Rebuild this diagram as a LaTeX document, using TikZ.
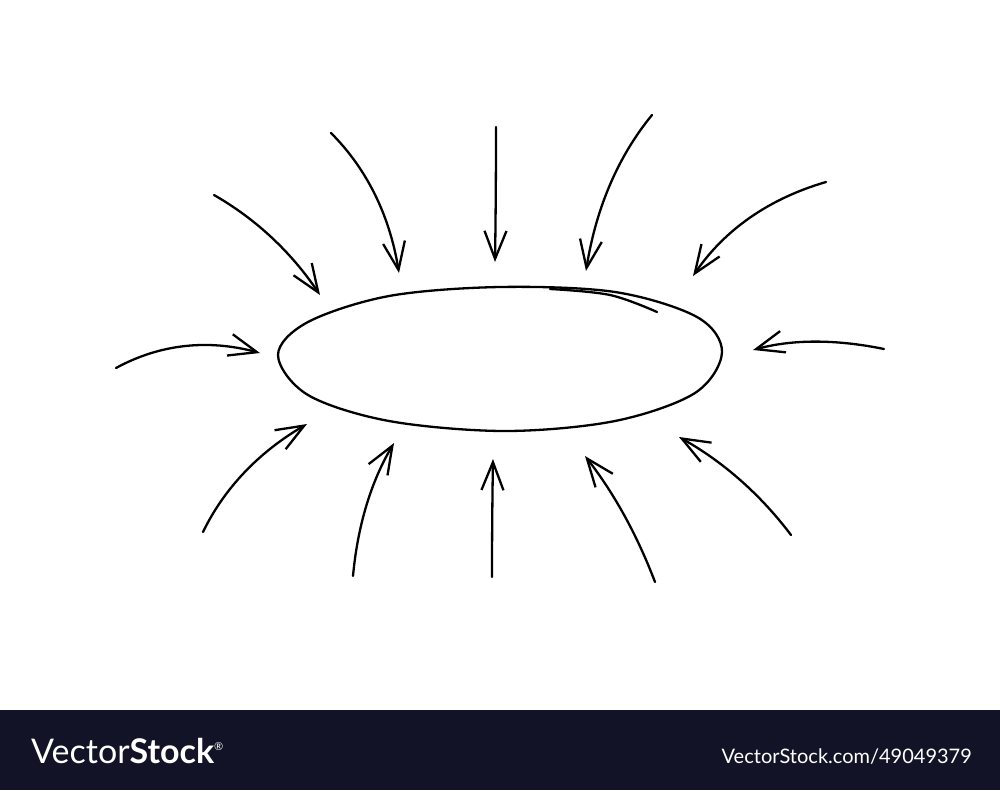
\documentclass[tikz,border=0pt]{standalone}
\usepackage{fontspec}
\setsansfont{Lato}
\usetikzlibrary{arrows.meta,calc}
\definecolor{barcol}{HTML}{121326}

\tikzset{
    sketch/.style={line width=2.3pt, line cap=round, line join=round},
    inarrow/.style={sketch, -{Straight Barb[length=28pt, width=22pt, line width=2.3pt]}}
}

\begin{document}
\begin{tikzpicture}[x=1pt, y=-1pt]
    \useasboundingbox (0,0) rectangle (1000,790);
    \fill[white] (0,0) rectangle (1000,790);
    % hand drawn loop
    \draw[sketch] plot[smooth cycle, tension=0.55] coordinates {(722,352) (697,317) (615,292) (500,287) (389,296) (308,322) (278,355) (308,395) (389,421) (505,431) (615,421) (695,393)};
    \draw[sketch] plot[smooth, tension=0.6] coordinates {(550,289) (610,295) (657,312)};
    % arrows pointing in: tail / bend / tip
    \foreach \i/\tx/\ty/\cx/\cy/\hx/\hy in {
        1/214/195/277/231/320/295, 2/331/133/385/187/399/273,
        3/496/127/496/195/495/262, 4/652/115/601/177/586/271,
        5/826/182/740/207/693/276, 6/116/368/182/332/260/353,
        7/884/349/811/334/753/350, 8/203/532/235/466/307/424,
        9/353/576/360/500/394/443, 10/492/577/492/518/493/459,
        11/655/582/628/511/585/456, 12/791/535/745/474/679/437}
    {
        \coordinate (tail\i) at (\tx,\ty);
        \coordinate (tip\i) at (\hx,\hy);
        \coordinate (bend\i) at (\cx,\cy);
        \draw[inarrow] (tail\i) .. controls ($(tail\i)!0.667!(bend\i)$) and ($(tip\i)!0.667!(bend\i)$) .. (tip\i);
    }
    % footer
    \fill[barcol] (0,710) rectangle (1000,790);
    \node[anchor=base west, text=white, font=\sffamily\fontsize{34}{34}\selectfont, inner sep=0pt] (logo) at (31,763) {Vector\textbf{Stock}\raisebox{13pt}{\fontsize{11}{11}\selectfont\textregistered}};
    \node[anchor=base east, text=white, font=\sffamily\fontsize{20}{20}\selectfont, inner sep=0pt] (link) at (972,763) {VectorStock.com/49049379};
\end{tikzpicture}
\end{document}
